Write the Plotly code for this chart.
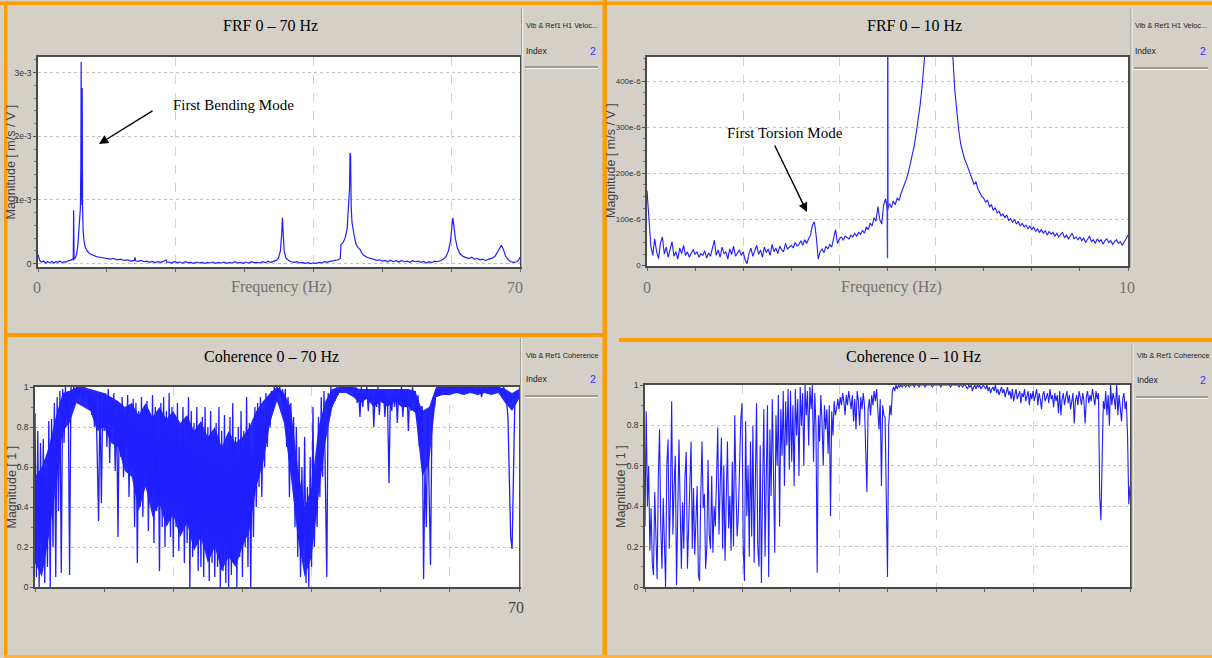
import plotly.graph_objects as go

# ---------------- DATA ----------------
# FRF 0-70 Hz  (magnitude in 1e-3 m/s/V)
frq70 = [0.0, 0.25, 0.5, 0.8, 1.1, 1.4, 1.7, 2.0, 2.3, 2.6, 2.9, 3.2, 3.5, 3.8, 4.1, 4.4, 4.7, 4.95,
         5.12, 5.18, 5.24, 5.4, 5.6, 5.8, 5.95, 6.05, 6.15, 6.22, 6.27, 6.32, 6.37, 6.42, 6.47, 6.55, 6.7, 6.9, 7.2, 7.6,
         8.0, 8.5, 9.0, 9.5, 10.0, 10.5, 11.0, 11.5, 12.0, 12.5, 13.0, 13.5, 14.0, 14.1, 14.2, 14.6, 15.0, 15.4, 15.8, 16.2,
         16.6, 17.0, 17.4, 17.8, 18.2, 18.6, 18.7, 19.0, 19.4, 19.8, 20.2, 20.6, 21.0, 21.4, 21.8, 22.2, 22.6, 23.0, 23.4, 23.8,
         24.2, 24.6, 25.0, 25.4, 25.8, 26.2, 26.6, 27.0, 27.4, 27.8, 28.2, 28.6, 29.0, 29.4, 29.8, 30.2, 30.6, 31.0, 31.4, 31.8,
         32.2, 32.6, 33.0, 33.4, 33.8, 34.2, 34.6, 34.9, 35.2, 35.38, 35.5, 35.62, 35.75, 36.0, 36.4, 36.8, 37.2, 37.6, 38.0, 38.4,
         38.8, 39.2, 39.6, 40.0, 40.4, 40.8, 41.2, 41.6, 42.0, 42.4, 42.8, 43.2, 43.6, 43.9, 44.0, 44.3, 44.6, 44.9, 45.1, 45.25,
         45.32, 45.4, 45.48, 45.6, 45.9, 46.2, 46.5, 46.8, 47.0, 47.3, 47.8, 48.3, 48.8, 49.2, 49.6, 50.0, 50.4, 50.8, 51.2, 51.6,
         52.0, 52.4, 52.8, 53.2, 53.6, 54.0, 54.4, 54.8, 55.2, 55.6, 56.0, 56.4, 56.8, 57.2, 57.6, 58.0, 58.5, 59.0, 59.3, 59.6,
         59.9, 60.1, 60.25, 60.4, 60.6, 60.9, 61.3, 61.8, 62.2, 62.6, 63.0, 63.4, 63.8, 64.2, 64.6, 65.0, 65.5, 66.0, 66.4, 66.8,
         67.1, 67.3, 67.6, 67.9, 68.3, 68.7, 69.1, 69.5, 69.8, 70.0]
mag70 = [0.14, 0.05, 0.02, 0.04, 0.01, 0.03, 0.015, 0.035, 0.01, 0.03, 0.02, 0.04, 0.015, 0.03, 0.025, 0.045, 0.05, 0.07,
         0.06, 0.84, 0.07, 0.09, 0.14, 0.3, 0.55, 0.8, 0.86, 1.5, 3.17, 1.3, 0.92, 2.76, 0.88, 0.52, 0.34, 0.25, 0.19, 0.15,
         0.13, 0.11, 0.1, 0.09, 0.085, 0.07, 0.08, 0.06, 0.07, 0.05, 0.06, 0.04, 0.05, 0.1, 0.04, 0.035, 0.05, 0.03, 0.04, 0.02,
         0.035, 0.015, 0.03, 0.02, 0.035, 0.06, 0.02, 0.025, 0.01, 0.03, 0.015, 0.025, 0.01, 0.03, 0.015, 0.02, 0.005, 0.025, 0.01, 0.02,
         0.005, 0.02, 0.01, 0.025, 0.005, 0.02, 0.01, 0.025, 0.005, 0.02, 0.01, 0.03, 0.01, 0.02, 0.005, 0.025, 0.01, 0.03, 0.015, 0.02,
         0.01, 0.03, 0.015, 0.035, 0.02, 0.04, 0.05, 0.08, 0.2, 0.45, 0.72, 0.45, 0.2, 0.09, 0.05, 0.03, 0.02, 0.03, 0.01, 0.02,
         0.005, 0.015, 0.0, 0.01, 0.005, 0.02, 0.01, 0.03, 0.02, 0.035, 0.04, 0.05, 0.06, 0.08, 0.3, 0.33, 0.4, 0.55, 0.84, 1.2,
         1.74, 1.7, 0.9, 0.65, 0.45, 0.3, 0.25, 0.22, 0.17, 0.13, 0.1, 0.08, 0.06, 0.05, 0.06, 0.04, 0.05, 0.03, 0.055, 0.03,
         0.045, 0.025, 0.05, 0.03, 0.04, 0.02, 0.045, 0.03, 0.04, 0.02, 0.035, 0.01, 0.03, 0.015, 0.04, 0.03, 0.05, 0.08, 0.12, 0.2,
         0.35, 0.55, 0.72, 0.6, 0.4, 0.25, 0.15, 0.11, 0.09, 0.08, 0.1, 0.07, 0.08, 0.06, 0.07, 0.05, 0.07, 0.09, 0.12, 0.19,
         0.26, 0.29, 0.22, 0.12, 0.06, 0.03, 0.02, 0.03, 0.05, 0.1]

# FRF 0-10 Hz (magnitude in 1e-6 m/s/V), sampled every 0.04 Hz
frf10_step = 0.04
mag10 = [163, 108, 42, 22, 58, 30, 15, 48, 62, 25, 40, 18, 35, 52, 20, 30, 14, 38, 26, 44, 22, 30, 18, 28, 35,
         24, 30, 18, 26, 22, 32, 16, 28, 20, 38, 55, 22, 34, 18, 40, 26, 30, 14, 36, 24, 42, 20, 28, 34, 22,
         30, 12, 4, 26, 38, 20, 32, 44, 24, 34, 18, 40, 28, 36, 22, 46, 30, 38, 26, 42, 34, 30, 48, 36, 40,
         44, 38, 50, 42, 46, 54, 44, 56, 48, 58, 66, 88, 95, 62, 14, 30, 36, 28, 42, 36, 46, 40, 56, 78, 48,
         58, 62, 55, 64, 60, 58, 66, 62, 70, 64, 72, 68, 76, 70, 84, 78, 92, 86, 104, 96, 128, 100, 90, 132, 145,
         120, 135, 126, 140, 132, 146, 142, 156, 168, 176, 190, 205, 222, 240, 262, 290, 318, 350, 390, 430, 470, 540, 650, 800, 1050,
         1500, 2400, 3100, 2500, 1600, 1100, 800, 620, 500, 450, 380, 330, 295, 265, 245, 232, 222, 210, 200, 190, 176, 182, 166, 158, 150,
         146, 138, 142, 128, 132, 120, 126, 114, 118, 108, 112, 104, 110, 98, 102, 94, 100, 90, 96, 86, 92, 84, 88, 80, 86,
         78, 84, 74, 80, 72, 78, 70, 76, 66, 74, 68, 72, 64, 70, 62, 68, 72, 60, 66, 58, 64, 70, 58, 62, 56,
         62, 54, 60, 50, 58, 64, 52, 56, 48, 58, 52, 56, 46, 54, 58, 50, 54, 46, 52, 56, 48, 52, 44, 50, 58, 66]
# narrow line at 5 Hz in the 0-10 Hz FRF
spike10_f = [4.99, 4.995, 5.0, 5.005, 5.01]
spike10_v = [140, 700, 16, 700, 130]

# Coherence 0-70 Hz, sampled every 0.2 Hz
coh70_step = 0.2
coh70 = [0.87, 0.05, 0.78, 0.0, 0.72, 0.15, 0.74, 0.02, 0.55, 0.1,
         0.83, 0.0, 0.84, 0.2, 0.92, 0.05, 0.95, 0.38, 0.98, 0.07,
         0.99, 0.72, 1.0, 0.85, 0.98, 0.06, 1.0, 0.9, 1.0, 0.94,
         1.0, 0.95, 1.0, 0.97, 0.99, 0.93, 1.0, 0.96, 0.98, 0.9,
         0.99, 0.86, 0.97, 0.8, 0.98, 0.72, 0.33, 0.96, 0.42, 0.94,
         0.78, 0.97, 0.7, 0.99, 0.62, 0.95, 0.8, 0.97, 0.58, 0.93,
         0.25, 0.9, 0.65, 0.95, 0.55, 0.88, 0.7, 0.96, 0.45, 0.9,
         0.6, 0.94, 0.3, 0.92, 0.12, 0.88, 0.4, 0.95, 0.35, 0.9,
         0.5, 0.93, 0.28, 0.87, 0.45, 0.96, 0.22, 0.9, 0.38, 0.85,
         0.08, 0.92, 0.3, 0.95, 0.2, 0.88, 0.35, 0.97, 0.25, 0.9,
         0.15, 0.86, 0.3, 0.92, 0.18, 0.8, 0.28, 0.9, 0.12, 0.85,
         0.22, 0.95, 0.0, 0.88, 0.15, 0.82, 0.25, 0.9, 0.08, 0.78,
         0.1, 0.85, 0.05, 0.9, 0.18, 0.8, 0.03, 0.88, 0.12, 0.75,
         0.05, 0.82, 0.1, 0.9, 0.0, 0.78, 0.08, 0.86, 0.02, 0.7,
         0.0, 0.85, 0.06, 0.92, 0.12, 0.75, 0.0, 0.8, 0.15, 0.88,
         0.05, 0.78, 0.2, 0.95, 0.1, 0.82, 0.0, 0.7, 0.25, 0.9,
         0.4, 0.92, 0.5, 0.95, 0.45, 0.88, 0.6, 0.97, 0.7, 0.95,
         0.8, 0.98, 0.88, 1.0, 0.92, 1.0, 0.97, 1.0, 0.95, 0.99,
         0.88, 0.99, 0.7, 0.95, 0.45, 0.92, 0.55, 0.85, 0.3, 0.8,
         0.15, 0.7, 0.05, 0.6, 0.2, 0.75, 0.02, 0.5, 0.0, 0.65,
         0.1, 0.9, 0.2, 0.6, 0.3, 0.85, 0.45, 0.95, 0.55, 0.98,
         0.6, 0.05, 0.97, 0.85, 1.0, 0.9, 0.99, 0.93, 1.0, 0.96,
         1.0, 0.98, 1.0, 0.99, 1.0, 1.0, 0.99, 1.0, 0.98, 1.0,
         0.99, 0.96, 1.0, 0.92, 0.98, 0.85, 1.0, 0.9, 0.97, 0.94,
         1.0, 0.88, 0.98, 0.93, 0.99, 0.8, 0.97, 0.9, 1.0, 0.86,
         0.98, 0.92, 0.99, 0.85, 0.97, 0.9, 0.52, 0.96, 0.88, 0.97,
         0.9, 0.99, 0.82, 0.97, 0.93, 1.0, 0.85, 0.98, 0.9, 0.99,
         0.78, 0.97, 0.88, 1.0, 0.92, 0.98, 0.84, 0.96, 0.7, 0.9,
         0.9, 0.04, 0.6, 0.3, 0.85, 0.35, 0.11, 0.8, 0.95, 0.9,
         0.99, 0.95, 1.0, 0.97, 0.99, 0.98, 1.0, 0.96, 0.99, 1.0,
         0.99, 1.0, 0.98, 1.0, 0.99, 0.97, 1.0, 0.99, 1.0, 0.98,
         1.0, 0.99, 1.0, 0.98, 0.99, 1.0, 0.97, 1.0, 0.99, 0.98,
         0.96, 1.0, 0.98, 0.95, 0.99, 1.0, 0.99, 0.97, 1.0, 0.99,
         1.0, 0.99, 1.0, 0.98, 1.0, 0.99, 1.0, 0.97, 0.99, 1.0,
         0.97, 0.93, 0.85, 0.55, 0.25, 0.19, 0.5, 0.93, 0.98, 0.97,
         0.96]

# Coherence 0-70 Hz: solid core of the dense trace (lower / upper edge), one value per Hz
coh70_band_lo = [0.12, 0.05, 0.25, 0.5, 0.78, 0.82, 0.92, 0.9, 0.88, 0.78,
                 0.8, 0.72, 0.7, 0.58, 0.55, 0.38, 0.5, 0.35, 0.42, 0.3,
                 0.36, 0.25, 0.32, 0.18, 0.25, 0.12, 0.2, 0.08, 0.15, 0.1,
                 0.2, 0.28, 0.5, 0.62, 0.82, 0.93, 0.82, 0.55, 0.25, 0.05,
                 0.15, 0.45, 0.72, 0.9, 0.97, 0.97, 0.95, 0.92, 0.94, 0.9,
                 0.93, 0.9, 0.93, 0.9, 0.9, 0.87, 0.55, 0.62, 0.95, 0.96,
                 0.96, 0.97, 0.96, 0.97, 0.96, 0.97, 0.96, 0.97, 0.92, 0.88,
                 0.94]
coh70_band_hi = [0.55, 0.6, 0.7, 0.85, 0.97, 0.98, 1.0, 1.0, 0.99, 0.98,
                 0.97, 0.95, 0.93, 0.9, 0.92, 0.86, 0.92, 0.85, 0.9, 0.84,
                 0.88, 0.82, 0.86, 0.78, 0.83, 0.75, 0.8, 0.7, 0.78, 0.72,
                 0.75, 0.8, 0.88, 0.93, 0.97, 1.0, 0.97, 0.9, 0.6, 0.4,
                 0.5, 0.8, 0.93, 0.99, 1.0, 1.0, 1.0, 0.99, 0.99, 0.99,
                 0.99, 0.99, 0.99, 0.99, 0.99, 0.98, 0.88, 0.9, 1.0, 1.0,
                 1.0, 1.0, 1.0, 1.0, 1.0, 1.0, 1.0, 1.0, 0.99, 0.97,
                 0.99]

# Coherence 0-10 Hz, sampled every 0.025 Hz
coh10_step = 0.025
coh10 = [0.3, 0.87, 0.4, 0.6, 0.18, 0.39, 0.12, 0.06, 0.47, 0.2, 0.04, 0.55, 0.78, 0.3, 0.09, 0.44, 0.25, 0.0, 0.6, 0.73,
         0.19, 0.45, 0.92, 0.26, 0.5, 0.65, 0.01, 0.35, 0.73, 0.4, 0.09, 0.42, 0.19, 0.55, 0.67, 0.09, 0.3, 0.5, 0.72, 0.19,
         0.49, 0.16, 0.38, 0.5, 0.06, 0.03, 0.45, 0.72, 0.39, 0.46, 0.09, 0.2, 0.63, 0.26, 0.19, 0.55, 0.17, 0.4, 0.3, 0.58,
         0.79, 0.26, 0.5, 0.74, 0.19, 0.6, 0.13, 0.45, 0.72, 0.29, 0.45, 0.18, 0.62, 0.2, 0.85, 0.5, 0.25, 0.36, 0.7, 0.83,
         0.91, 0.2, 0.03, 0.82, 0.35, 0.6, 0.15, 0.72, 0.25, 0.8, 0.12, 0.55, 0.91, 0.2, 0.1, 0.7, 0.02, 0.5, 0.88, 0.15,
         0.62, 0.9, 0.05, 0.78, 0.45, 0.93, 0.55, 0.17, 0.85, 0.6, 0.95, 0.3, 0.88, 0.65, 0.97, 0.5, 0.92, 0.7, 0.98, 0.58,
         0.97, 0.62, 0.9, 0.5, 0.98, 0.75, 0.93, 0.55, 0.99, 0.8, 0.96, 0.6, 1.0, 0.85, 0.97, 0.7, 0.99, 0.88, 1.0, 0.62,
         0.96, 0.8, 0.07, 0.85, 0.72, 0.95, 0.82, 0.6, 0.9, 0.78, 0.88, 0.66, 0.9, 0.35, 0.87, 0.75, 0.92, 0.85, 0.88, 0.93,
         0.88, 0.94, 0.9, 0.96, 0.92, 0.85, 0.95, 0.9, 0.97, 0.93, 0.88, 0.95, 0.82, 0.93, 0.78, 0.97, 0.92, 0.8, 0.94, 0.88,
         0.96, 0.9, 0.7, 0.47, 0.88, 0.93, 0.85, 0.95, 0.9, 0.97, 0.92, 0.98, 0.88, 0.78, 0.93, 0.5, 0.9, 0.85, 0.84, 0.38,
         0.05, 0.8, 0.9, 0.85, 0.97, 0.99, 0.97, 1.0, 0.98, 1.0, 0.99, 1.0, 0.99, 1.0, 1.0, 0.99, 1.0, 1.0, 0.99, 1.0,
         1.0, 1.0, 0.99, 1.0, 1.0, 1.0, 0.99, 1.0, 1.0, 1.0, 1.0, 0.99, 1.0, 1.0, 1.0, 1.0, 1.0, 0.99, 1.0, 1.0,
         1.0, 1.0, 1.0, 1.0, 0.99, 1.0, 1.0, 1.0, 1.0, 1.0, 1.0, 1.0, 0.99, 1.0, 1.0, 1.0, 1.0, 1.0, 1.0, 0.99,
         1.0, 1.0, 0.99, 1.0, 1.0, 0.99, 0.98, 1.0, 0.99, 1.0, 0.97, 0.99, 1.0, 0.98, 1.0, 0.99, 1.0, 0.98, 0.99, 1.0,
         0.99, 0.98, 1.0, 0.97, 0.99, 0.96, 0.98, 0.99, 0.97, 1.0, 0.96, 0.98, 0.95, 0.97, 0.99, 0.96, 0.98, 0.94, 0.97, 0.99,
         0.95, 0.97, 0.93, 0.98, 0.92, 0.96, 0.98, 0.93, 0.95, 0.97, 0.91, 0.96, 0.94, 0.98, 0.92, 0.95, 0.97, 0.9, 0.96, 0.93,
         0.97, 0.92, 0.95, 0.98, 0.9, 0.96, 0.93, 0.88, 0.95, 0.97, 0.92, 0.94, 0.96, 0.91, 0.98, 0.93, 0.95, 0.89, 0.96, 0.92,
         0.95, 0.86, 0.97, 0.85, 0.93, 0.96, 0.9, 0.94, 0.97, 0.91, 0.95, 0.88, 0.93, 0.96, 0.81, 0.92, 0.95, 0.9, 0.97, 0.93,
         0.9, 0.96, 0.92, 0.81, 0.94, 0.97, 0.91, 0.95, 0.92, 0.98, 0.94, 0.9, 0.97, 0.93, 0.96, 0.45, 0.33, 0.7, 0.92, 0.88,
         0.97, 0.85, 0.95, 0.8, 1.0, 0.9, 0.96, 0.93, 0.88, 1.0, 0.85, 0.95, 0.9, 0.82, 0.93, 0.96, 0.88, 0.92, 0.74, 0.41,
         0.5]

# tick labels
frf70_tickvals = [0, 1, 2, 3]
frf70_ticktext = ['0', '1e-3', '2e-3', '3e-3']
frf10_tickvals = [0, 100, 200, 300, 400]
frf10_ticktext = ['0', '100e-6', '200e-6', '300e-6', '400e-6']
coh_tickvals = [0, 0.2, 0.4, 0.6, 0.8, 1.0]
coh_ticktext = ['0', '0.2', '0.4', '0.6', '0.8', '1']

# ---------------- STYLE ----------------
W, H = 1212, 658
BG = '#d4d0c8'
ORANGE = '#ff9c00'
BLUE = '#1e1eff'
SERIF = 'Liberation Serif, Times New Roman, serif'
NARROW = 'Liberation Sans Narrow, Arial Narrow, Liberation Sans, Arial, sans-serif'
SANS = 'Liberation Sans, Arial, sans-serif'


def px(x):
    return x / W


def py(y):
    return 1 - y / H


frq10 = [round(i * frf10_step, 3) for i in range(len(mag10))]
frqc70 = [round(i * coh70_step, 3) for i in range(len(coh70))]
frqc10 = [round(i * coh10_step, 4) for i in range(len(coh10))]
band_f = list(range(len(coh70_band_lo)))

fig = go.Figure()


def add_line(x, y, xa, ya, width=1.1, color=BLUE):
    fig.add_trace(go.Scatter(x=x, y=y, mode='lines', line=dict(color=color, width=width),
                             xaxis=xa, yaxis=ya, showlegend=False, hoverinfo='skip'))


add_line(frq70, mag70, 'x', 'y', 1.2)
add_line(frq10, mag10, 'x2', 'y2', 1.1)
add_line(spike10_f, spike10_v, 'x2', 'y2', 1.3, '#3a3aff')
# dense core of the 0-70 Hz coherence
fig.add_trace(go.Scatter(x=band_f + band_f[::-1], y=coh70_band_hi + coh70_band_lo[::-1],
                         mode='lines', fill='toself', fillcolor='#2626ff', line=dict(width=0, color='#2626ff'),
                         xaxis='x3', yaxis='y3', showlegend=False, hoverinfo='skip'))
add_line(frqc70, coh70, 'x3', 'y3', 1.3)
add_line(frqc10, coh10, 'x4', 'y4', 1.1)


def xax(domain, rng, dtick, mdtick, anchor):
    return dict(domain=domain, range=rng, anchor=anchor, showline=True, linecolor='#4a4a4a', linewidth=1.5,
                mirror=True, showticklabels=False, ticks='outside', ticklen=3, tickcolor='#666',
                tickmode='linear', tick0=0, dtick=dtick,
                minor=dict(dtick=mdtick, tick0=0, ticks='outside', ticklen=3, tickcolor='#666', showgrid=False),
                showgrid=True, gridcolor='#d2d2d2', griddash='dash', gridwidth=1, zeroline=False, fixedrange=True)


def yax(domain, rng, vals, texts, mdtick, anchor, fsize):
    return dict(domain=domain, range=rng, anchor=anchor, showline=True, linecolor='#4a4a4a', linewidth=1.5,
                mirror=True, tickmode='array', tickvals=vals, ticktext=texts, ticks='outside', ticklen=3,
                tickcolor='#555', tickfont=dict(family=NARROW, size=fsize, color='#333'),
                minor=dict(dtick=mdtick, tick0=0, ticks='outside', ticklen=2, tickcolor='#777', showgrid=False),
                showgrid=True, gridcolor='#c6c2b8', griddash='dot', gridwidth=1, zeroline=False, fixedrange=True)


layout = dict(
    width=W, height=H, autosize=False, margin=dict(l=0, r=0, t=0, b=0, pad=0, autoexpand=False),
    paper_bgcolor=BG, plot_bgcolor='white', hovermode=False, showlegend=False,
    xaxis=xax([px(38), px(520)], [0, 70], 20, 10, 'y'),
    yaxis=yax([py(267), py(57)], [-0.053, 3.245], frf70_tickvals, frf70_ticktext, 0.2, 'x', 8.5),
    xaxis2=xax([px(647), px(1128)], [0, 10], 2, 1, 'y2'),
    yaxis2=yax([py(266), py(57)], [-1, 453], frf10_tickvals, frf10_ticktext, 25, 'x2', 8),
    xaxis3=xax([px(35), px(519)], [0, 70], 20, 10, 'y3'),
    yaxis3=yax([py(587), py(387)], [0, 1], coh_tickvals, coh_ticktext, 0.1, 'x3', 8.5),
    xaxis4=xax([px(645), px(1130)], [0, 10], 2, 1, 'y4'),
    yaxis4=yax([py(587), py(385)], [0, 1], coh_tickvals, coh_ticktext, 0.1, 'x4', 8.5),
)
fig.update_layout(**layout)

# ---------------- SHAPES ----------------
shapes = []


def rect(x0, y0, x1, y1, color):
    shapes.append(dict(type='rect', xref='paper', yref='paper', x0=px(x0), x1=px(x1), y0=py(y1), y1=py(y0),
                       fillcolor=color, line=dict(width=0), layer='above'))


def hline(x0, x1, y, color, w=1):
    shapes.append(dict(type='line', xref='paper', yref='paper', x0=px(x0), x1=px(x1), y0=py(y), y1=py(y),
                       line=dict(color=color, width=w), layer='above'))


def vline(x, y0, y1, color, w=1):
    shapes.append(dict(type='line', xref='paper', yref='paper', x0=px(x), x1=px(x), y0=py(y0), y1=py(y1),
                       line=dict(color=color, width=w), layer='above'))


# orange panel frames
rect(0, 1.5, W, 5, ORANGE)
rect(4, 1.5, 7.5, 657, ORANGE)
rect(602.5, 0, 607, H, ORANGE)
rect(4, 333, 603, 337, ORANGE)
rect(619, 338, W, 342, ORANGE)
rect(4, 655, W, 658, '#ffb040')

# side-panel separators
for sx, sy0, sy1 in [(521.5, 8, 267), (1131, 8, 267), (520.5, 338, 587), (1132, 343, 587)]:
    vline(sx, sy0, sy1, '#a29f98', 1)
    vline(sx + 1.2, sy0, sy1, '#f2f1ee', 1)

# legend underlines
for lx0, lx1, ly in [(525, 598, 67), (1134, 1208, 68), (525, 598, 396), (1136, 1208, 397)]:
    hline(lx0, lx1, ly, '#8f8c86', 1.5)
    hline(lx0, lx1, ly + 1.5, '#f4f3f0', 1)

fig.update_layout(shapes=shapes)

# ---------------- TEXT ----------------
ann = []


def text(t, x, y, size, color='black', family=SERIF, xanchor='center', angle=0):
    ann.append(dict(text=t, x=px(x), y=py(y), xref='paper', yref='paper', showarrow=False,
                    xanchor=xanchor, yanchor='middle', textangle=angle,
                    font=dict(family=family, size=size, color=color)))


text('FRF 0 – 70 Hz', 270, 25, 16)
text('FRF 0 – 10 Hz', 914, 25, 16)
text('Coherence 0 – 70 Hz', 271, 356, 16)
text('Coherence 0 – 10 Hz', 913, 356, 16)

text('0', 37, 287, 16, '#707070')
text('Frequency (Hz)', 281, 287, 16, '#707070')
text('70', 515, 287, 16, '#707070')
text('0', 647, 287, 16, '#707070')
text('Frequency (Hz)', 891, 287, 16, '#707070')
text('10', 1127, 287, 16, '#707070')
text('70', 516, 607, 16, '#444444')

text('Magnitude [ m/s / V ]', 10.5, 162, 12.5, '#444', SANS, angle=-90)
text('Magnitude [ m/s / V ]', 611, 161, 12.5, '#444', SANS, angle=-90)
text('Magnitude [ 1 ]', 11.5, 487, 12.5, '#444', SANS, angle=-90)
text('Magnitude [ 1 ]', 621, 487, 12.5, '#444', SANS, angle=-90)

for lx, ly, label in [(524, 25, 'Vib & Ref1 H1 Veloc...'), (1133, 25, 'Vib & Ref1 H1 Veloc...'),
                      (524, 355, 'Vib & Ref1 Coherence'), (1135, 355, 'Vib & Ref1 Coherence')]:
    text(label, lx, ly, 7.3, '#222', NARROW, xanchor='left')
for lx, rx, ly in [(524, 598, 51), (1133, 1208, 51), (524, 598, 379), (1135, 1208, 380)]:
    text('Index', lx, ly, 8.5, '#222', NARROW, xanchor='left')
    text('2', rx, ly, 10.5, '#3333ff', NARROW, xanchor='right')

text('First Bending Mode', 233, 105, 15)
text('First Torsion Mode', 785, 133, 15)

# arrows (head position, tail offset in pixels)
for hx, hy, tx, ty in [(99, 144, 154, 110), (807, 212, 774, 144)]:
    ann.append(dict(text='', x=px(hx), y=py(hy), xref='paper', yref='paper', showarrow=True,
                    ax=tx - hx, ay=ty - hy, arrowhead=2, arrowsize=1.3, arrowwidth=1.4,
                    arrowcolor='black', standoff=0))

fig.update_layout(annotations=ann)

fig.write_html('out.html',
               post_script="document.body.style.margin='0px';document.body.style.overflow='hidden';")
